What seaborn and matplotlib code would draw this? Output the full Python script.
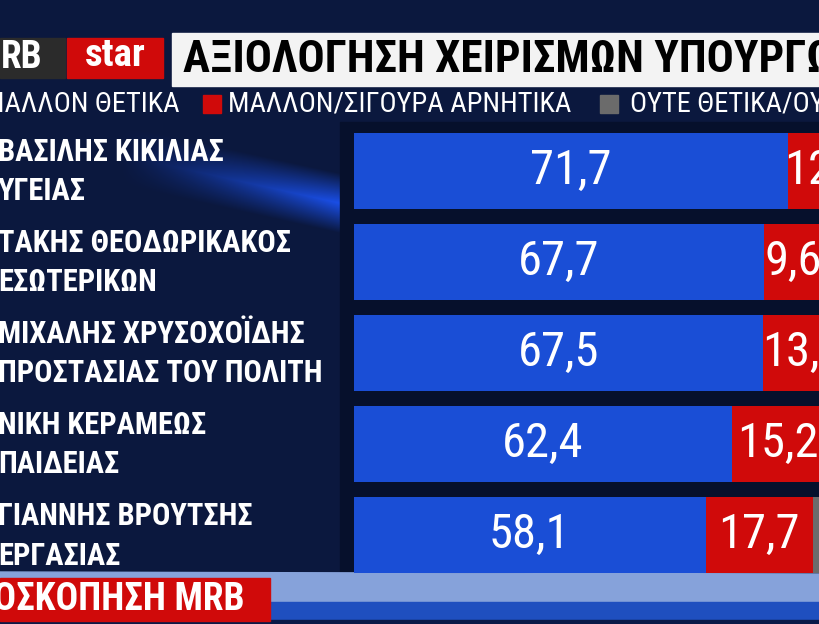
import numpy as np
import pandas as pd
import matplotlib
matplotlib.use("Agg")
import matplotlib.pyplot as plt
import matplotlib.transforms as mtransforms
import seaborn as sns
from matplotlib.patches import Rectangle, Polygon

# ---- data ----
NAMES = ["ΒΑΣΙΛΗΣ ΚΙΚΙΛΙΑΣ", "ΤΑΚΗΣ ΘΕΟΔΩΡΙΚΑΚΟΣ", "ΜΙΧΑΛΗΣ ΧΡΥΣΟΧΟΪΔΗΣ",
         "ΝΙΚΗ ΚΕΡΑΜΕΩΣ", "ΓΙΑΝΝΗΣ ΒΡΟΥΤΣΗΣ"]
MINISTRIES = ["ΥΓΕΙΑΣ", "ΕΣΩΤΕΡΙΚΩΝ", "ΠΡΟΣΤΑΣΙΑΣ ΤΟΥ ΠΟΛΙΤΗ", "ΠΑΙΔΕΙΑΣ", "ΕΡΓΑΣΙΑΣ"]
POSITIVE = [71.7, 67.7, 67.5, 62.4, 58.1]
NEGATIVE = [12.3, 9.6, 13.4, 15.2, 17.7]
NEUTRAL = [16.0, 22.7, 19.1, 22.4, 24.2]
LEGEND_LABELS = ["ΜΑΛΛΟΝ ΘΕΤΙΚΑ", "ΜΑΛΛΟΝ/ΣΙΓΟΥΡΑ ΑΡΝΗΤΙΚΑ", "ΟΥΤΕ ΘΕΤΙΚΑ/ΟΥΤΕ ΑΡΝΗΤΙΚΑ"]
TITLE = "ΑΞΙΟΛΟΓΗΣΗ ΧΕΙΡΙΣΜΩΝ ΥΠΟΥΡΓΩΝ"
SOURCE = "ΔΗΜΟΣΚΟΠΗΣΗ MRB"

BLUE = "#1a4ed6"
RED = "#d00a0a"
GREY = "#6b6b6b"

W, H = 820, 624
FONT = ["Roboto Condensed", "DejaVu Sans"]

sns.set_theme(style="white")
plt.rcParams["font.family"] = FONT

df = pd.DataFrame({
    "label": [f"{n}\n{m}" for n, m in zip(NAMES, MINISTRIES)],
    "pos": POSITIVE,
    "neg": NEGATIVE,
    "neu": NEUTRAL,
})
df["pos_neg"] = df["pos"] + df["neg"]
df["total"] = df["pos_neg"] + df["neu"]

fig = plt.figure(figsize=(W / 100, H / 100), dpi=100)

# --- background (pixel coordinates) ---
bg = fig.add_axes([0, 0, 1, 1])
bg.set_xlim(0, W)
bg.set_ylim(H, 0)
bg.axis("off")
yy, xx = np.mgrid[0:H, 0:W]
img = np.zeros((H, W, 3))
img[:] = np.array([11, 24, 62]) / 255
# diagonal streak behind the names
d = np.abs((yy - 150) - 0.22 * (xx - 100))
streak = np.clip(1 - d / 30, 0, 1) * np.clip((xx - 120) / 220, 0, 1)
img += streak[..., None] * (np.array([15, 55, 170]) / 255)
img = np.clip(img, 0, 1)
bg.imshow(img, extent=(0, W, H, 0), aspect="auto", zorder=0)

# dark panel behind the bars
bg.add_patch(Rectangle((340, 122), W - 340, 458, color="#06102c", zorder=1))
# bottom strips
bg.add_patch(Polygon([(0, 572), (W, 574), (W, 604), (0, 600)], color="#86a2da", zorder=1))
bg.add_patch(Rectangle((0, 602), W, 22, color="#1f4fbf", zorder=1))
bg.add_patch(Rectangle((0, 620), W, 4, color="#0a1a48", zorder=1))

# header: logo + title box
bg.add_patch(Rectangle((0, 38), 65, 40, color="#2b2b2b", zorder=2))
bg.add_patch(Rectangle((67, 38), 96, 40, color=RED, zorder=2))
bg.text(1, 58, "RB", color="white", fontsize=27, fontweight="bold",
        va="center", ha="left", zorder=3)
bg.text(115, 56, "star", color="white", fontsize=28, fontweight="bold",
        va="center", ha="center", zorder=3)
bg.add_patch(Rectangle((172, 33), W - 172, 53, color="#f3f3f3", zorder=2))
bg.text(183, 60, TITLE, color="black", fontsize=32.5, fontweight="bold",
        va="center", ha="left", zorder=3)

# legend row
legend_x = [-17, 228, 630]
swatch_x = [None, 203, 600]
for lab, tx, sx, col in zip(LEGEND_LABELS, legend_x, swatch_x, [BLUE, RED, GREY]):
    if sx is not None:
        bg.add_patch(Rectangle((sx, 95), 18, 18, color=col, zorder=2))
    bg.text(tx, 104, lab, color="white", fontsize=20.5, va="center", ha="left", zorder=3)

# source box bottom left
bg.add_patch(Rectangle((0, 578), 270, 43, color=RED, zorder=2))
bg.text(245, 600, SOURCE, color="white", fontsize=27, fontweight="bold",
        va="center", ha="right", zorder=3)

# --- bars ---
ax = fig.add_axes([354 / W, 1 - 580.5 / H, 1 - 354 / W, 455.5 / H])
ax.set_facecolor("none")
for col, c in [("total", GREY), ("pos_neg", RED), ("pos", BLUE)]:
    sns.barplot(data=df, y="label", x=col, color=c, width=0.835, saturation=1,
                errorbar=None, ax=ax, orient="h", linewidth=0)

ax.set_xlim(0, 77)
ax.set_ylim(4.5, -0.5)

fmt = lambda v: f"{v:.1f}".replace(".", ",")
ax.bar_label(ax.containers[2], labels=[fmt(v) for v in df["pos"]],
             label_type="center", color="white", fontsize=35)
for i, (p, n) in enumerate(zip(df["pos"], df["neg"])):
    ax.text(p + n / 2, i, fmt(n), color="white", fontsize=35,
            ha="center", va="center", clip_on=False)

ax.set_yticks(range(len(df)))
ax.set_yticklabels(df["label"], ha="left", color="white", fontsize=22,
                   fontweight="bold", linespacing=1.4)
ax.tick_params(axis="y", length=0, pad=356 * 0.72)
shift = mtransforms.ScaledTranslation(0, 0.07, fig.dpi_scale_trans)
for lab in ax.get_yticklabels():
    lab.set_transform(lab.get_transform() + shift)
ax.set_xticks([])
ax.set_xlabel("")
ax.set_ylabel("")
sns.despine(ax=ax, left=True, bottom=True)

fig.savefig("out.png", dpi=100)
